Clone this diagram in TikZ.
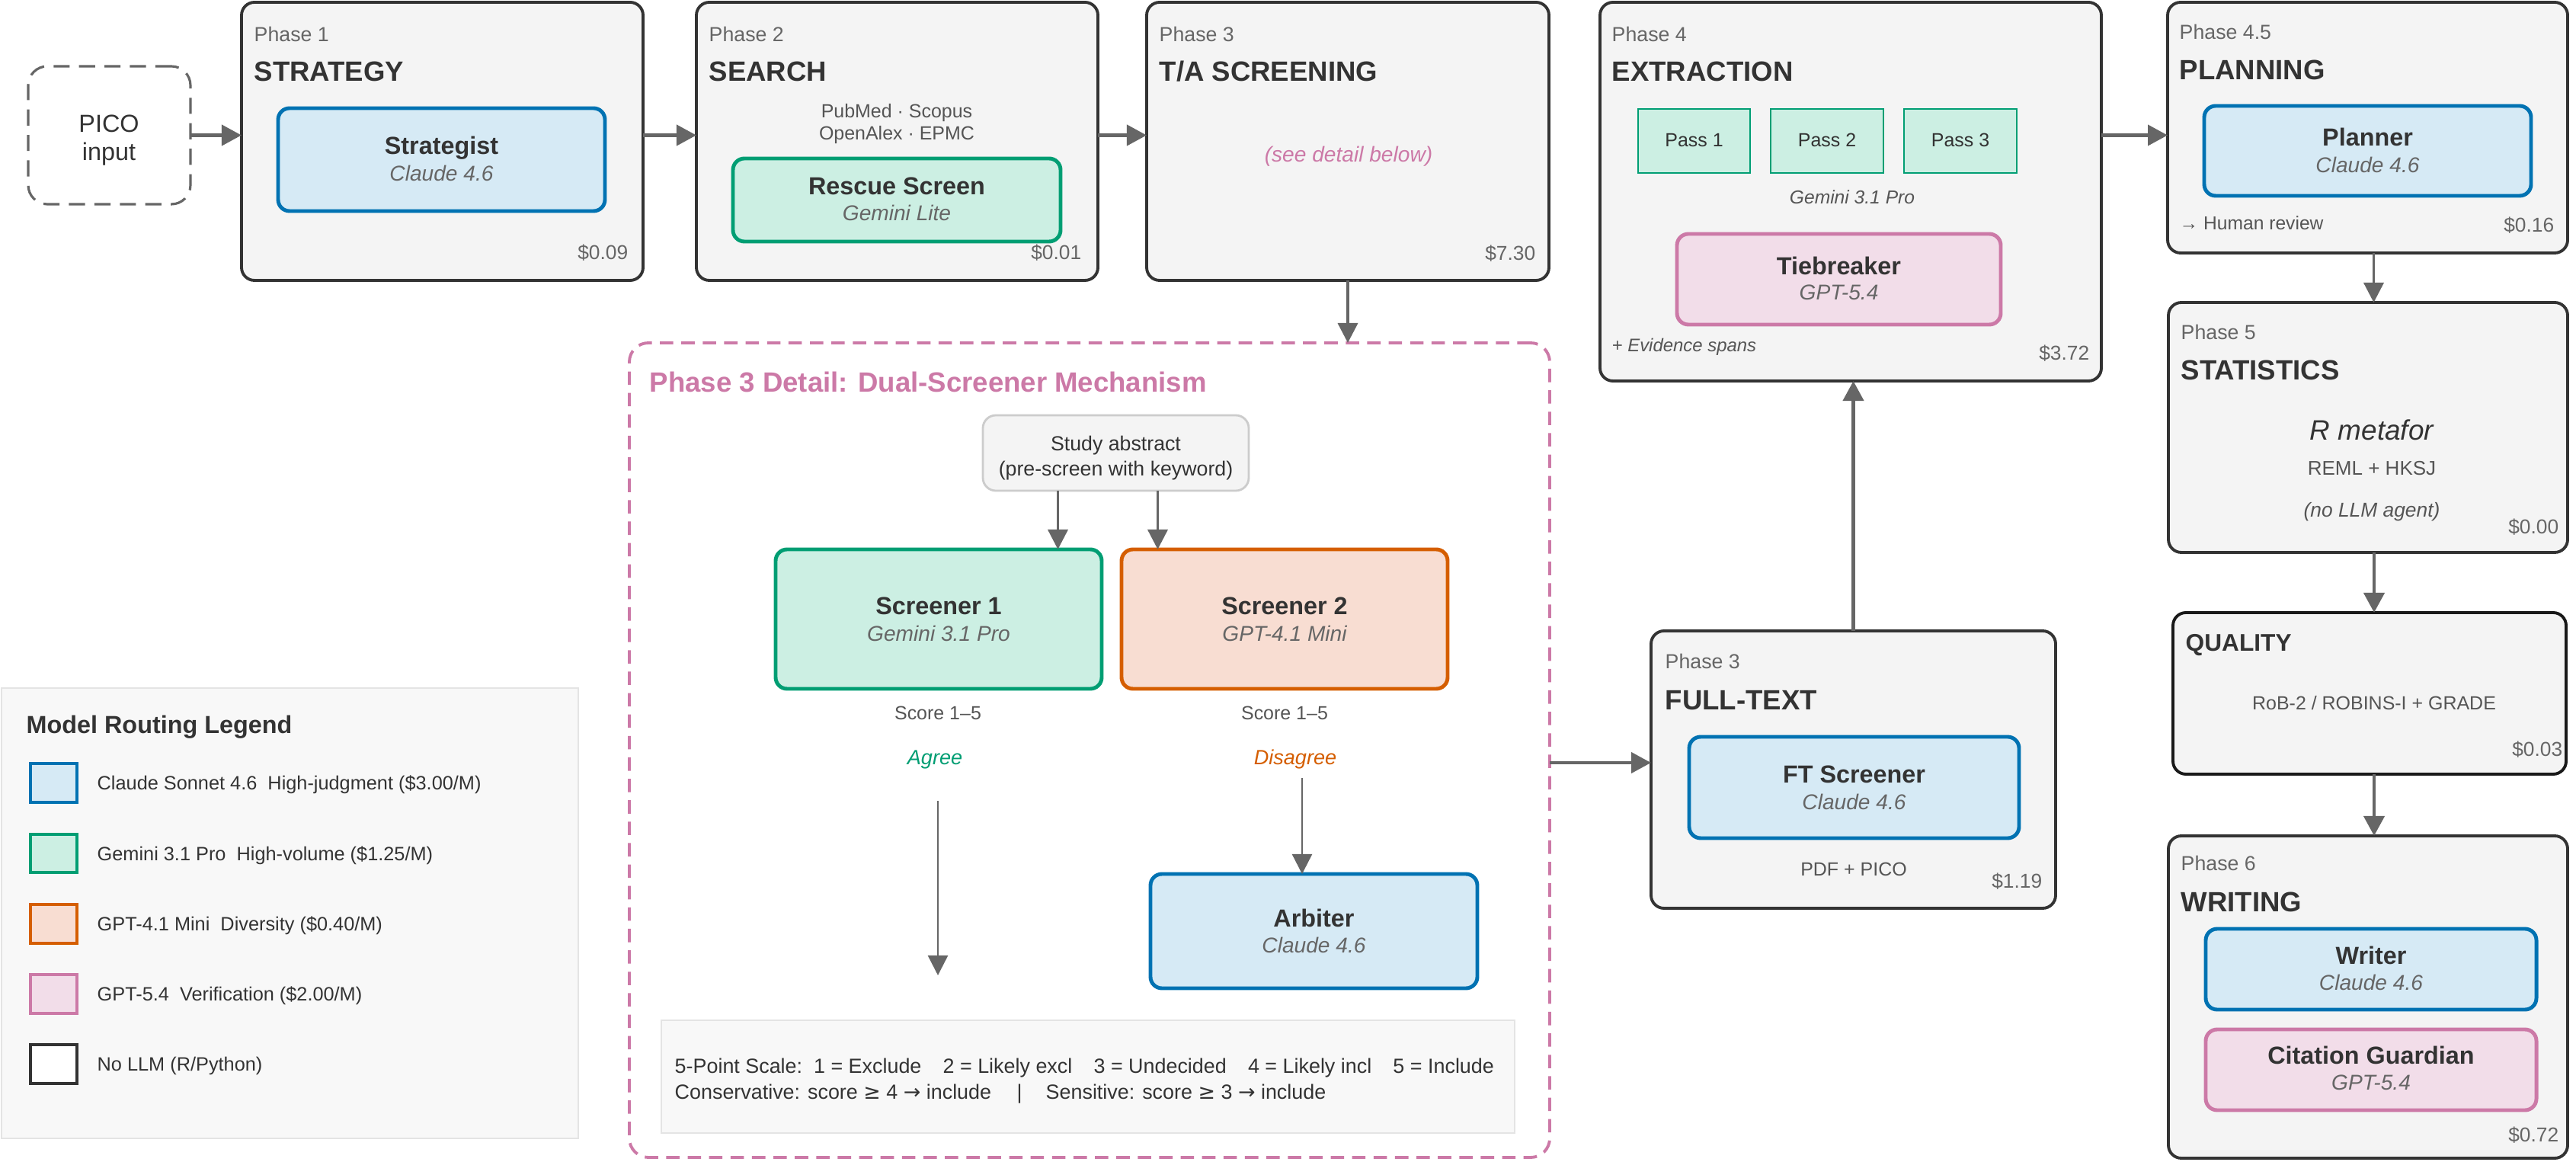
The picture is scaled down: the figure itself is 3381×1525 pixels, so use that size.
\documentclass[tikz,border=0pt]{standalone}
\usepackage{fontspec}
\setmainfont{Liberation Sans}
\newfontfamily\symfont{DejaVu Sans}
\usetikzlibrary{arrows.meta,calc}
\definecolor{ctext}{HTML}{333333}
\definecolor{cgray}{HTML}{666666}
\definecolor{csmall}{HTML}{555555}
\definecolor{cphase}{HTML}{F4F4F4}
\definecolor{cedge}{HTML}{333333}
\definecolor{carrow}{HTML}{666666}
\definecolor{bblue}{HTML}{0072B2}\definecolor{fblue}{HTML}{D6EAF5}
\definecolor{bgreen}{HTML}{009E73}\definecolor{fgreen}{HTML}{CCEFE3}
\definecolor{borange}{HTML}{D55E00}\definecolor{forange}{HTML}{F8DDD2}
\definecolor{bpink}{HTML}{CC79A7}\definecolor{fpink}{HTML}{F2DDE9}
\definecolor{clegbg}{HTML}{F8F8F8}\definecolor{clegedge}{HTML}{E4E4E4}
\definecolor{cstudyedge}{HTML}{CCCCCC}
\newcommand\fs[1]{\fontsize{#1}{#1}\selectfont}
\newcommand\bx[6]{\node[#2, minimum width={(#5-#3)*0.01cm}, minimum height={(#6-#4)*0.01cm}] (#1) at ({(#3+#5)/2},{(#4+#6)/2}) {};}
\newcommand\sge{{\symfont ≥}}
\newcommand\sar{{\symfont →}}
\newcommand\gap{\hspace{1.05em}}
\begin{document}
\begin{tikzpicture}[x=0.01cm,y=-0.01cm,
  base/.style={inner sep=0, outer sep=0, rectangle},
  phase/.style={base, draw=cedge, fill=cphase, line width=1.1pt, rounded corners=0.17cm},
  qbox/.style={base, draw=black!90, fill=cphase, line width=1.1pt, rounded corners=0.17cm},
  mclaude/.style={base, draw=bblue, fill=fblue, line width=1.4pt, rounded corners=0.15cm},
  mgemini/.style={base, draw=bgreen, fill=fgreen, line width=1.4pt, rounded corners=0.15cm},
  mgpt4/.style={base, draw=borange, fill=forange, line width=1.4pt, rounded corners=0.15cm},
  mgpt5/.style={base, draw=bpink, fill=fpink, line width=1.4pt, rounded corners=0.15cm},
  passbox/.style={base, draw=bgreen, fill=fgreen, line width=0.8pt},
  picobox/.style={base, draw=cgray, line width=0.9pt, dash pattern=on 6pt off 3.5pt, rounded corners=0.25cm, fill=white},
  dbox/.style={base, draw=bpink, line width=1.1pt, dash pattern=on 5pt off 3pt, rounded corners=0.25cm},
  studybox/.style={base, draw=cstudyedge, fill=cphase, line width=0.8pt, rounded corners=0.17cm},
  scalebox/.style={base, draw=clegedge, fill=clegbg, line width=0.7pt},
  legbox/.style={base, draw=clegedge, fill=clegbg, line width=0.7pt},
  lsq/.style={base, line width=1.1pt},
  lbl/.style={anchor=base west, inner sep=0, text=cgray, font=\fs{7.6pt}},
  ttl/.style={anchor=base west, inner sep=0, text=ctext, font=\bfseries\fs{10.4pt}},
  mname/.style={anchor=base, inner sep=0, text=ctext, font=\bfseries\fs{9.2pt}},
  mmodel/.style={anchor=base, inner sep=0, text=cgray, font=\itshape\fs{8pt}},
  cost/.style={anchor=base east, inner sep=0, text=cgray, font=\fs{7.5pt}},
  smalltxt/.style={anchor=base, inner sep=0, text=csmall, font=\fs{7.1pt}},
  legtxt/.style={anchor=base west, inner sep=0, text=ctext, font=\fs{7.2pt}},
  scaletxt/.style={anchor=base west, inner sep=0, text=ctext, font=\fs{7.65pt}},
  amain/.style={draw=carrow, line width=1.4pt, -{Triangle[length=7.4pt,width=7.6pt]}},
  amid/.style={draw=carrow, line width=1pt, -{Triangle[length=7.4pt,width=7.4pt]}},
  athin/.style={draw=carrow, line width=0.7pt, -{Triangle[length=7.4pt,width=7.4pt]}}
]
\useasboundingbox (0,0) rectangle (3381,1525);
\fill[white] (0,0) rectangle (3381,1525);

% ---------- PICO ----------
\bx{pico}{picobox}{37}{87}{250}{268}
\node[anchor=base, inner sep=0, text=ctext, font=\fs{9.2pt}] (picot1) at (143,174) {PICO};
\node[anchor=base, inner sep=0, text=ctext, font=\fs{9.2pt}] (picot2) at (143,211) {input};

% ---------- Phase 1 ----------
\bx{p1}{phase}{317}{3}{844}{368}
\node[lbl] (p1l) at (333,55) {Phase 1};
\node[ttl] (p1t) at (333,107) {STRATEGY};
\bx{strat}{mclaude}{365}{142}{794}{277}
\node[mname] (stratn) at (579.5,203) {Strategist};
\node[mmodel] (stratm) at (579.5,238) {Claude 4.6};
\node[cost] (p1c) at (825,341) {\$0.09};

% ---------- Phase 2 ----------
\bx{p2}{phase}{914}{3}{1441}{368}
\node[lbl] (p2l) at (930,55) {Phase 2};
\node[ttl] (p2t) at (930,107) {SEARCH};
\node[smalltxt] (p2s1) at (1177,155) {PubMed · Scopus};
\node[smalltxt] (p2s2) at (1177,184) {OpenAlex · EPMC};
\bx{rescue}{mgemini}{962}{208}{1392}{317}
\node[mname] (rescuen) at (1177,256) {Rescue Screen};
\node[mmodel] (rescuem) at (1177,290) {Gemini Lite};
\node[cost] (p2c) at (1420,341) {\$0.01};

% ---------- Phase 3 ----------
\bx{p3}{phase}{1505}{3}{2033}{368}
\node[lbl] (p3l) at (1521,55) {Phase 3};
\node[ttl] (p3t) at (1521,107) {T/A SCREENING};
\node[anchor=base, inner sep=0, text=bpink, font=\itshape\fs{8pt}] (p3see) at (1770,213) {(see detail below)};
\node[cost] (p3c) at (2016,342) {\$7.30};

% ---------- Phase 4 ----------
\bx{p4}{phase}{2100}{3}{2758}{500}
\node[lbl] (p4l) at (2115,55) {Phase 4};
\node[ttl] (p4t) at (2115,107) {EXTRACTION};
\bx{pass1}{passbox}{2150}{143}{2297}{227}
\bx{pass2}{passbox}{2324}{143}{2472}{227}
\bx{pass3}{passbox}{2499}{143}{2647}{227}
\node[anchor=base, inner sep=0, text=ctext, font=\fs{7.1pt}] (pass1t) at (2223.5,193) {Pass 1};
\node[anchor=base, inner sep=0, text=ctext, font=\fs{7.1pt}] (pass2t) at (2398,193) {Pass 2};
\node[anchor=base, inner sep=0, text=ctext, font=\fs{7.1pt}] (pass3t) at (2573,193) {Pass 3};
\node[anchor=base, inner sep=0, text=csmall, font=\itshape\fs{7pt}] (p4gem) at (2431,268) {Gemini 3.1 Pro};
\bx{tie}{mgpt5}{2201}{307}{2626}{426}
\node[mname] (tien) at (2413.5,361) {Tiebreaker};
\node[mmodel] (tiem) at (2413.5,394) {GPT-5.4};
\node[anchor=base west, inner sep=0, text=csmall, font=\itshape\fs{6.8pt}] (p4ev) at (2115,462) {+ Evidence spans};
\node[cost] (p4c) at (2743,473) {\$3.72};

% ---------- Phase 4.5 ----------
\bx{p45}{phase}{2845}{3}{3370}{332}
\node[lbl] (p45l) at (2860,52) {Phase 4.5};
\node[ttl] (p45t) at (2860,105) {PLANNING};
\bx{plan}{mclaude}{2893}{139}{3322}{257}
\node[mname] (plann) at (3107.5,192) {Planner};
\node[mmodel] (planm) at (3107.5,227) {Claude 4.6};
\node[anchor=base west, inner sep=0, text=csmall, font=\fs{7pt}] (p45h) at (2860,302) {→ Human review};
\node[cost] (p45c) at (3353,305) {\$0.16};

% ---------- Phase 5 ----------
\bx{p5}{phase}{2846}{397}{3370}{725}
\node[lbl] (p5l) at (2862,446) {Phase 5};
\node[ttl] (p5t) at (2862,499) {STATISTICS};
\node[anchor=base, inner sep=0, text=ctext, font=\itshape\fs{10.5pt}] (p5r) at (3113,578) {R metafor};
\node[anchor=base, inner sep=0, text=csmall, font=\fs{7.4pt}] (p5reml) at (3113,624) {REML + HKSJ};
\node[anchor=base, inner sep=0, text=csmall, font=\itshape\fs{7.5pt}] (p5no) at (3113,679) {(no LLM agent)};
\node[cost] (p5c) at (3359,701) {\$0.00};

% ---------- Quality ----------
\bx{q}{qbox}{2852}{804}{3368}{1016}
\node[anchor=base west, inner sep=0, text=ctext, font=\bfseries\fs{9pt}] (qt) at (2868,855) {QUALITY};
\node[smalltxt] (qrob) at (3116,932) {RoB-2 / ROBINS-I + GRADE};
\node[cost] (qc) at (3364,992) {\$0.03};

% ---------- Phase 6 ----------
\bx{p6}{phase}{2846}{1097}{3370}{1520}
\node[lbl] (p6l) at (2862,1142) {Phase 6};
\node[ttl] (p6t) at (2862,1196) {WRITING};
\bx{writer}{mclaude}{2895}{1219}{3329}{1325}
\node[mname] (writern) at (3112,1265) {Writer};
\node[mmodel] (writerm) at (3112,1299) {Claude 4.6};
\bx{cite}{mgpt5}{2895}{1351}{3329}{1457}
\node[mname] (citen) at (3112,1396) {Citation Guardian};
\node[mmodel] (citem) at (3112,1430) {GPT-5.4};
\node[cost] (p6c) at (3359,1498) {\$0.72};

% ---------- Phase 3 full-text ----------
\bx{ft}{phase}{2167}{828}{2698}{1192}
\node[lbl] (ftl) at (2185,877) {Phase 3};
\node[ttl] (ftt) at (2185,932) {FULL-TEXT};
\bx{fts}{mclaude}{2217}{967}{2650}{1100}
\node[mname] (ftsn) at (2433.5,1027) {FT Screener};
\node[mmodel] (ftsm) at (2433.5,1062) {Claude 4.6};
\node[smalltxt] (ftpdf) at (2433,1149) {PDF + PICO};
\node[cost] (ftc) at (2681,1165) {\$1.19};

% ---------- Phase 3 detail ----------
\bx{detail}{dbox}{826}{450}{2034}{1519}
\node[anchor=base west, inner sep=0, text=bpink, font=\bfseries\fs{10.4pt}] (dtitle) at (852,515) {Phase 3 Detail: Dual-Screener Mechanism};
\bx{study}{studybox}{1290}{545}{1639}{644}
\node[anchor=base, inner sep=0, text=ctext, font=\fs{7.6pt}] (studyt1) at (1464.5,592) {Study abstract};
\node[anchor=base, inner sep=0, text=ctext, font=\fs{7.6pt}] (studyt2) at (1464.5,625) {(pre-screen with keyword)};
\bx{s1}{mgemini}{1018}{721}{1446}{904}
\node[mname] (s1n) at (1232,807) {Screener 1};
\node[mmodel] (s1m) at (1232,841) {Gemini 3.1 Pro};
\bx{s2}{mgpt4}{1472}{721}{1900}{904}
\node[mname] (s2n) at (1686,807) {Screener 2};
\node[mmodel] (s2m) at (1686,841) {GPT-4.1 Mini};
\node[smalltxt] (s1score) at (1231,945) {Score 1–5};
\node[smalltxt] (s2score) at (1686,945) {Score 1–5};
\node[anchor=base, inner sep=0, text=bgreen, font=\itshape\fs{7.7pt}] (agree) at (1227,1003) {Agree};
\node[anchor=base, inner sep=0, text=borange, font=\itshape\fs{7.7pt}] (disagree) at (1700,1003) {Disagree};
\bx{arb}{mclaude}{1510}{1147}{1939}{1297}
\node[mname] (arbn) at (1724.5,1216) {Arbiter};
\node[mmodel] (arbm) at (1724.5,1250) {Claude 4.6};
\bx{scale}{scalebox}{868}{1339}{1988}{1487}
\node[scaletxt] (scale1) at (885,1408) {5-Point Scale:\ \ 1 = Exclude\gap 2 = Likely excl\gap 3 = Undecided\gap 4 = Likely incl\gap 5 = Include};
\node[scaletxt] (scale2a) at (885,1442) {Conservative: score \sge{} 4 \sar{} include};
\node[anchor=base, inner sep=0, text=ctext, font=\fs{7.65pt}] (scale2b) at (1338,1442) {|};
\node[scaletxt] (scale2c) at (1372,1442) {Sensitive: score \sge{} 3 \sar{} include};

% ---------- Legend ----------
\bx{leg}{legbox}{2}{903}{759}{1494}
\node[anchor=base west, inner sep=0, text=ctext, font=\bfseries\fs{9.2pt}] (legt) at (34,962) {Model Routing Legend};
\bx{lg1}{lsq, draw=bblue, fill=fblue}{40}{1002}{101}{1053}
\bx{lg2}{lsq, draw=bgreen, fill=fgreen}{40}{1095}{101}{1145}
\bx{lg3}{lsq, draw=borange, fill=forange}{40}{1187}{101}{1238}
\bx{lg4}{lsq, draw=bpink, fill=fpink}{40}{1279}{101}{1330}
\bx{lg5}{lsq, draw=ctext, fill=white}{40}{1371}{101}{1422}
\node[legtxt] (lgt1) at (127,1036) {Claude Sonnet 4.6\ \ High-judgment (\$3.00/M)};
\node[legtxt] (lgt2) at (127,1129) {Gemini 3.1 Pro\ \ High-volume (\$1.25/M)};
\node[legtxt] (lgt3) at (127,1221) {GPT-4.1 Mini\ \ Diversity (\$0.40/M)};
\node[legtxt] (lgt4) at (127,1313) {GPT-5.4\ \ Verification (\$2.00/M)};
\node[legtxt] (lgt5) at (127,1405) {No LLM (R/Python)};

% ---------- Connectors ----------
\draw[amain] (pico.east) -- (pico.east -| p1.west);
\draw[amain] (p1.east |- pico.east) -- (p2.west |- pico.east);
\draw[amain] (p2.east |- pico.east) -- (p3.west |- pico.east);
\draw[amain] (p4.east |- pico.east) -- (p45.west |- pico.east);
\draw[amid] (p3.south) -- (p3.south |- detail.north);
\coordinate (fta) at ($(ft.west)+(0,-9)$);
\draw[amain] (fta -| detail.east) -- (fta);
\draw[amain] (ft.north) -- (ft.north |- p4.south);
\coordinate (a45) at ($(p45.south)+(8,0)$);
\draw[amid] (a45) -- (a45 |- p5.north);
\coordinate (a5) at ($(p5.south)+(8,0)$);
\draw[amain] (a5) -- (a5 |- q.north);
\coordinate (aq) at ($(q.south)+(6,0)$);
\draw[amain] (aq) -- (aq |- p6.north);
\coordinate (sa1) at ($(study.south)+(-76,0)$);
\draw[amid] (sa1) -- (sa1 |- s1.north);
\coordinate (sa2) at ($(study.south)+(55,0)$);
\draw[amid] (sa2) -- (sa2 |- s2.north);
\coordinate (ag1) at (1231,1051);
\coordinate (ag2) at (1231,1280);
\draw[athin] (ag1) -- (ag2);
\coordinate (dg1) at (1709,1021);
\draw[athin] (dg1) -- (dg1 |- arb.north);
\end{tikzpicture}
\end{document}
